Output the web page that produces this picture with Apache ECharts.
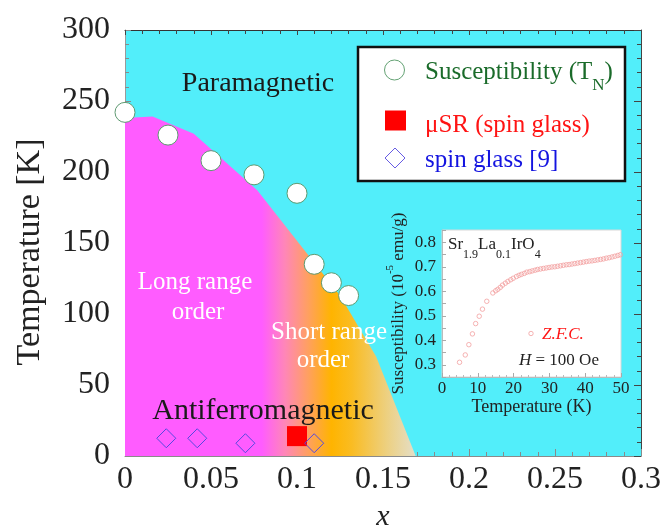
<!DOCTYPE html>
<html>
<head>
<meta charset="utf-8">
<script src="https://cdn.jsdelivr.net/npm/echarts@6/dist/echarts.min.js"></script>
<style>
  html, body { margin: 0; padding: 0; background: #fff; }
  #main { width: 663px; height: 528px; }
</style>
</head>
<body>
<div id="main"></div>
<script>
// 相图数据
var boundaryX = [0, 0.016, 0.040, 0.077, 0.125, 0.146, 0.169];
var boundaryT = [238, 239, 227, 187, 113, 70, 0];

var suscX = [0, 0.025, 0.05, 0.075, 0.1, 0.11, 0.12, 0.13];
var suscT = [242, 226, 208, 198, 185, 135, 122, 113];

var musrX = [0.1];
var musrT = [14];

var glassX = [0.024, 0.042, 0.07, 0.11];
var glassT = [12.5, 12.5, 9, 9];

// 插图数据 Sr1.9La0.1IrO4 Z.F.C.
var insetT = [4.9, 6.5, 7.5, 8.5, 9.4, 10.4, 11.3, 12.5,
  14.2, 15.0, 15.6, 16.3, 16.9, 17.7, 18.4, 19.2, 19.9,
  20.8, 21.5, 22.2, 23.0, 23.7, 24.5, 25.2, 26.0, 26.7,
  27.5, 28.3, 29.1, 29.9, 30.7, 31.5, 32.3, 33.1, 33.9, 34.7,
  35.5, 36.3, 37.1, 37.9, 38.7, 39.5, 40.3, 41.1, 41.9, 42.7,
  43.5, 44.3, 45.1, 45.9, 46.7, 47.5, 48.3, 49.1, 49.8];
var insetChi = [0.310, 0.340, 0.382, 0.426, 0.468, 0.498, 0.527, 0.559,
  0.593, 0.602, 0.608, 0.616, 0.625, 0.633, 0.640, 0.647, 0.653,
  0.660, 0.665, 0.669, 0.673, 0.678, 0.680, 0.683, 0.686, 0.689,
  0.691, 0.693, 0.695, 0.697, 0.699, 0.700, 0.702, 0.704, 0.706, 0.708,
  0.709, 0.711, 0.713, 0.715, 0.717, 0.719, 0.721, 0.723, 0.724, 0.726,
  0.728, 0.730, 0.732, 0.735, 0.737, 0.740, 0.743, 0.746, 0.749];

function pairs(xs, ys) {
  return xs.map(function (x, i) { return [x, ys[i]]; });
}

var serif = '"Liberation Serif", "Times New Roman", serif';
var myChart = echarts.init(document.getElementById('main'));

var option = {
  backgroundColor: '#fff',
  animation: false,
  textStyle: { fontFamily: serif },
  grid: [
    { left: 125, top: 30, right: 22, bottom: 72, show: true, backgroundColor: '#52EEFA', borderWidth: 0, outerBoundsMode: 'none', containLabel: false },
    { left: 442, top: 230, right: 42, bottom: 151, show: true, backgroundColor: '#fff', borderColor: '#d8d8d8', borderWidth: 1, outerBoundsMode: 'none', containLabel: false }
  ],
  xAxis: [{
    type: 'value', gridIndex: 0, min: 0, max: 0.3, interval: 0.05, position: 'bottom',
    axisLine: { onZero: false, lineStyle: { color: '#8a8a8a' } },
    axisTick: { inside: true, length: 7, lineStyle: { color: '#8a8a8a' } },
    minorTick: { show: true, splitNumber: 5, length: 4, lineStyle: { color: '#8a8a8a' } },
    splitLine: { show: false },
    axisLabel: { fontSize: 32, fontFamily: serif, color: '#222', margin: 8 },
    name: 'x', nameLocation: 'middle', nameGap: 46,
    nameTextStyle: { fontSize: 30, fontStyle: 'italic', fontFamily: serif, color: '#222' }
  }, {
    type: 'value', gridIndex: 0, min: 0, max: 0.3, interval: 0.05, position: 'top',
    axisLine: { onZero: false, lineStyle: { color: '#333' } },
    axisTick: { inside: true, length: 5, lineStyle: { color: '#444' } },
    minorTick: { show: true, splitNumber: 5, length: 4, lineStyle: { color: '#444' } },
    splitLine: { show: false },
    axisLabel: { show: false }
  }, {
    type: 'value', gridIndex: 1, min: 0, max: 50, interval: 10,
    axisLine: { onZero: false, lineStyle: { color: '#bbb' } },
    axisTick: { inside: true, length: 4, lineStyle: { color: '#aaa' } },
    minorTick: { show: true, splitNumber: 5, length: 2, lineStyle: { color: '#bbb' } },
    splitLine: { show: false },
    axisLabel: { fontSize: 17, fontFamily: serif, color: '#222', margin: 3 },
    name: 'Temperature (K)', nameLocation: 'middle', nameGap: 16,
    nameTextStyle: { fontSize: 18, fontFamily: serif, color: '#222' }
  }],
  yAxis: [{
    type: 'value', gridIndex: 0, min: 0, max: 300, interval: 50, position: 'left',
    axisLine: { onZero: false, lineStyle: { color: '#9a9a9a' } },
    axisTick: { inside: true, length: 6, lineStyle: { color: '#8a8a8a' } },
    minorTick: { show: true, splitNumber: 5, length: 4, lineStyle: { color: '#8a8a8a' } },
    splitLine: { show: false },
    axisLabel: { fontSize: 32, fontFamily: serif, color: '#222', margin: 15 }
  }, {
    type: 'value', gridIndex: 0, min: 0, max: 300, interval: 50, position: 'right',
    axisLine: { onZero: false, lineStyle: { color: '#444' } },
    axisTick: { inside: true, length: 7, lineStyle: { color: '#444' } },
    minorTick: { show: true, splitNumber: 5, length: 4, lineStyle: { color: '#444' } },
    splitLine: { show: false },
    axisLabel: { show: false }
  }, {
    type: 'value', gridIndex: 1, min: 0.25, max: 0.85, interval: 0.05,
    axisLine: { onZero: false, lineStyle: { color: '#bbb' } },
    axisTick: { inside: true, length: 4, lineStyle: { color: '#aaa' } },
    splitLine: { show: false },
    axisLabel: {
      fontSize: 17, fontFamily: serif, color: '#222', margin: 6,
      formatter: function (v) {
        var t = v * 10;
        return Math.abs(t - Math.round(t)) < 1e-6 && v < 0.84 ? v.toFixed(1) : '';
      }
    },
    name: '{a|Susceptibility (10}{b|-5}{a| emu/g)}', nameLocation: 'middle', nameGap: 30,
    nameTextStyle: {
      rich: {
        a: { fontSize: 17, fontFamily: serif, color: '#222' },
        b: { fontSize: 11, fontFamily: serif, color: '#222', padding: [0, 0, 16, 0] }
      }
    }
  }],
  series: [{
    // 反铁磁区域
    name: 'boundary',
    type: 'line',
    xAxisIndex: 0, yAxisIndex: 0,
    data: pairs(boundaryX, boundaryT),
    symbol: 'none',
    silent: true,
    lineStyle: { width: 0 },
    areaStyle: {
      opacity: 1,
      color: new echarts.graphic.LinearGradient(0, 0, 1, 0, [
        { offset: 0, color: '#FF5CFF' },
        { offset: 0.47, color: '#FF5CFF' },
        { offset: 0.55, color: '#FF86B8' },
        { offset: 0.63, color: '#FFA060' },
        { offset: 0.71, color: '#FFB400' },
        { offset: 0.78, color: '#FABC22' },
        { offset: 0.90, color: '#EDD080' },
        { offset: 1, color: '#E4DEC8' }
      ])
    },
    z: 1
  }, {
    name: 'Susceptibility',
    type: 'scatter',
    xAxisIndex: 0, yAxisIndex: 0,
    data: pairs(suscX, suscT),
    symbol: 'circle', symbolSize: 20, clip: false,
    itemStyle: { color: '#fff', borderColor: '#5f9a72', borderWidth: 1, opacity: 1 },
    z: 3
  }, {
    name: 'muSR',
    type: 'scatter',
    xAxisIndex: 0, yAxisIndex: 0,
    data: pairs(musrX, musrT),
    symbol: 'rect', symbolSize: 20,
    itemStyle: { color: '#FF0000', opacity: 1 },
    z: 3
  }, {
    name: 'spin glass',
    type: 'scatter',
    xAxisIndex: 0, yAxisIndex: 0,
    data: pairs(glassX, glassT),
    symbol: 'diamond', symbolSize: 19,
    itemStyle: { color: 'rgba(0,0,0,0)', borderColor: '#5548e0', borderWidth: 1, opacity: 1 },
    z: 4
  }, {
    name: 'ZFC',
    type: 'scatter',
    xAxisIndex: 2, yAxisIndex: 2,
    data: pairs(insetT, insetChi),
    symbol: 'circle', symbolSize: 4.5,
    itemStyle: { color: 'rgba(0,0,0,0)', borderColor: '#f2a0a0', borderWidth: 0.8, opacity: 1 },
    z: 5
  }],
  graphic: [
    // 纵轴标题
    { type: 'text', x: 30, y: 252, rotation: Math.PI / 2, z: 50, style: { text: 'Temperature [K]', fontSize: 34, fontFamily: serif, fill: '#222', align: 'center', verticalAlign: 'middle' } },
    // 区域文字
    { type: 'text', x: 258, y: 84, z: 50, style: { text: 'Paramagnetic', fontSize: 28, fontFamily: serif, fill: '#1a1a1a', align: 'center', verticalAlign: 'middle' } },
    { type: 'text', x: 195, y: 282, z: 50, style: { text: 'Long range', fontSize: 25, fontFamily: serif, fill: '#fff', align: 'center', verticalAlign: 'middle' } },
    { type: 'text', x: 198, y: 312, z: 50, style: { text: 'order', fontSize: 25, fontFamily: serif, fill: '#fff', align: 'center', verticalAlign: 'middle' } },
    { type: 'text', x: 329, y: 332, z: 50, style: { text: 'Short range', fontSize: 25, fontFamily: serif, fill: '#fff', align: 'center', verticalAlign: 'middle' } },
    { type: 'text', x: 323, y: 360, z: 50, style: { text: 'order', fontSize: 25, fontFamily: serif, fill: '#fff', align: 'center', verticalAlign: 'middle' } },
    { type: 'text', x: 263, y: 411, z: 50, style: { text: 'Antiferromagnetic', fontSize: 30, fontFamily: serif, fill: '#1a1a1a', align: 'center', verticalAlign: 'middle' } },
    // 图例
    { type: 'rect', z: 60, shape: { x: 358, y: 47, width: 267, height: 134 }, style: { fill: '#fff', stroke: '#111', lineWidth: 2.5 } },
    { type: 'circle', z: 61, shape: { cx: 394.5, cy: 70, r: 10 }, style: { fill: '#fff', stroke: '#3c8a50', lineWidth: 0.8 } },
    { type: 'rect', z: 61, shape: { x: 385, y: 110.5, width: 21, height: 20 }, style: { fill: '#FF0000' } },
    { type: 'polygon', z: 61, shape: { points: [[395, 148], [405, 158], [395, 168], [385, 158]] }, style: { fill: 'none', stroke: '#5548e0', lineWidth: 0.9 } },
    { type: 'text', x: 425, y: 72.5, z: 61, style: {
      text: '{m|Susceptibility (T}{s|N}{m|)}', verticalAlign: 'middle', align: 'left',
      rich: {
        m: { fontSize: 25, fontFamily: serif, fill: '#1a6b2a', color: '#1a6b2a' },
        s: { fontSize: 17, fontFamily: serif, fill: '#1a6b2a', color: '#1a6b2a', padding: [26, 0, 0, 0] }
      } } },
    { type: 'text', x: 425, y: 125, z: 61, style: { text: 'μSR (spin glass)', fontSize: 25, fontFamily: serif, fill: '#FF1414', align: 'left', verticalAlign: 'middle' } },
    { type: 'text', x: 425, y: 160, z: 61, style: { text: 'spin glass [9]', fontSize: 25, fontFamily: serif, fill: '#1414E0', align: 'left', verticalAlign: 'middle' } },
    // 插图文字
    { type: 'text', x: 448, y: 245, z: 61, style: {
      text: '{m|Sr}{s|1.9}{m|La}{s|0.1}{m|IrO}{s|4}', verticalAlign: 'middle', align: 'left',
      rich: {
        m: { fontSize: 17, fontFamily: serif, fill: '#222', color: '#222' },
        s: { fontSize: 12, fontFamily: serif, fill: '#222', color: '#222', padding: [20, 0, 0, 0] }
      } } },
    { type: 'circle', z: 61, shape: { cx: 531, cy: 333.5, r: 2.2 }, style: { fill: 'none', stroke: '#f2a0a0', lineWidth: 0.8 } },
    { type: 'text', x: 542, y: 335, z: 61, style: { text: 'Z.F.C.', fontSize: 17, fontStyle: 'italic', fontFamily: serif, fill: '#FF1414', align: 'left', verticalAlign: 'middle' } },
    { type: 'text', x: 519, y: 361, z: 61, style: {
      text: '{i|H}{m| = 100 Oe}', verticalAlign: 'middle', align: 'left',
      rich: {
        i: { fontSize: 17, fontStyle: 'italic', fontFamily: serif, fill: '#222', color: '#222' },
        m: { fontSize: 17, fontFamily: serif, fill: '#222', color: '#222' }
      } } }
  ]
};

myChart.setOption(option);
</script>
</body>
</html>
